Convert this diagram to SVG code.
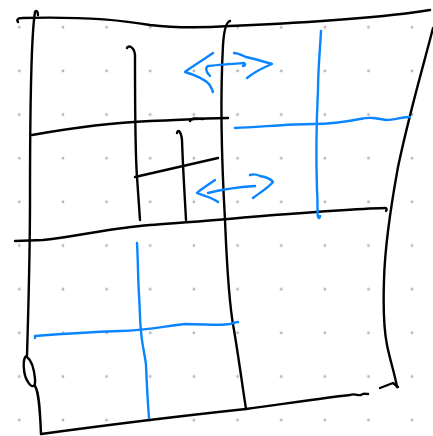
<svg xmlns="http://www.w3.org/2000/svg" width="433" height="436" viewBox="0 0 433 436">
  <style>
    .k { fill: none; stroke: #000; stroke-width: 2.4; stroke-linecap: round; stroke-linejoin: round; }
    .b { fill: none; stroke: #0a84ff; stroke-width: 2.4; stroke-linecap: round; stroke-linejoin: round; }
  </style>
  <defs>
    <pattern id="dots" x="-2.5" y="5.5" width="43.65" height="43.65" patternUnits="userSpaceOnUse">
      <circle cx="21.8" cy="21.8" r="1.4" fill="#b4b4b4"/>
    </pattern>
  </defs>
  <rect width="433" height="436" fill="#fff"/>
  <rect width="433" height="436" fill="url(#dots)"/>

  <g id="black-strokes">
    <path class="k" d="M18,22 C16,19 19,18 22,18 C60,17 110,18 150,25 C175,28 200,28 230,26 C300,23 380,18 430,10"/>
    <path class="k" d="M38,15 C38,11 36,10 35,12 C32,30 30,100 30,200 C30,260 28,320 27,356 C22,356 23,375 28,382 C31,387 36,389 35,379 C34,368 31,360 27,357"/>
    <path class="k" d="M35,386 C39,392 40,410 41,434"/>
    <path class="k" d="M41,434 C100,426 180,416 246,409 C290,403 330,397 350,395 C355,393 358,396 361,395 C363,393 365,394 368,394"/>
    <path class="k" d="M380,388 L393,383 L398,387"/>
    <path class="k" d="M433,28 C425,60 410,110 398,167 C392,200 385,240 384,280 C383,310 384,330 387,345 C390,360 395,375 397,387"/>
    <path class="k" d="M230,21 C226,22 224,30 223,45 C220,100 221,150 225,220 C227,270 230,310 234,330 C239,360 243,390 246,409"/>
    <path class="k" d="M15,241 L43,240 C80,236 110,228 150,225 C190,222 220,220 250,217 C300,213 350,209 385,208 C387,208 387,210 386,211"/>
    <path class="k" d="M32,135 C60,130 100,123 150,121 C180,120 210,118 228,118"/>
    <path class="k" d="M190,121 C191,118 195,118 203,119"/>
    <path class="k" d="M127,48 C128,45 134,46 135,55 C135,100 135,150 137,177 L140,220"/>
    <path class="k" d="M135,177 L218,158"/>
    <path class="k" d="M177,133 C178,129 181,131 182,140 C183,170 185,200 186,220"/>
  </g>

  <g id="blue-strokes">
    <path class="b" d="M213,53 C200,62 190,68 185,72 C195,75 205,80 209,84 C211,87 212,89 213,92"/>
    <path class="b" d="M210,76 C206,72 205,68 208,66 C215,65 230,64 244,63 C246,64 245,66 243,66"/>
    <path class="b" d="M234,53 C238,53 241,55 246,57 C255,59 265,62 272,64 C262,68 252,74 247,78"/>
    <path class="b" d="M215,180 C208,185 200,190 197,193 C205,196 213,198 218,202"/>
    <path class="b" d="M208,193 C220,190 240,187 255,186"/>
    <path class="b" d="M250,175 C253,174 256,174 260,176 C266,177 271,179 273,182 C268,188 258,194 253,198"/>
    <path class="b" d="M321,31 C320,50 318,70 318,90 C316,130 316,160 317,190 C318,205 317,212 318,217 C319,219 320,218 320,216"/>
    <path class="b" d="M235,128 C260,127 290,124 313,124 C330,124 345,122 360,119 C370,117 376,118 386,120 C395,120 402,117 410,117"/>
    <path class="b" d="M137,243 C138,260 138,280 139,295 C140,310 140,325 141,331 C142,345 145,355 146,365 C147,390 148,405 149,418"/>
    <path class="b" d="M35,338 L35,336 C60,334 90,332 120,331 C150,330 165,326 185,324 C205,324 220,326 230,324 C234,323 236,322 238,322"/>
  </g>
</svg>
